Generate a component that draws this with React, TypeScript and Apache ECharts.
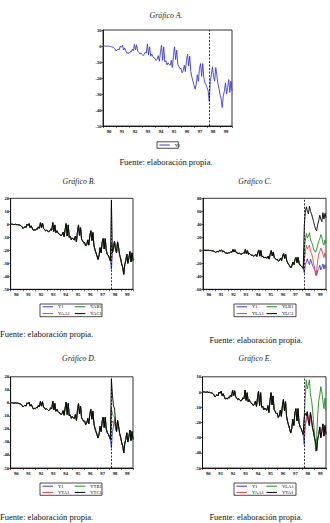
import React, { useEffect, useRef } from "react";
import * as echarts from "echarts";

// Year labels of the monthly axis (1990M01 - 1999M12)
const yearLabels = ["90", "91", "92", "93", "94", "95", "96", "97", "98", "99"];

// Observed series Y1, monthly 1990M01 - 1999M12
const y1 = [
  0, 0.1, 0, -0.2, -0.1, 0, -0.3, -0.2, -0.5, -0.7, -1.0, -1.8,
  -3.2, -2.4, -1.8, -2.5, 0, -0.8, 0.5, -2.5, -1.2, -3.0, -4.6, -4.2,
  -4.6, -3.5, -3.8, -2.0, -3.0, 1.2, -2.5, 0.8, -3.2, -4.0, -5.0, -4.4,
  -5.2, -6.0, -5.2, -3.8, -4.5, 1.3, -5.5, -0.5, -6.4, -5.0, -6.6, -7.5,
  -7.8, -9.0, -8.2, -6.0, -9.5, -4.0, 0.5, -9.0, -0.5, -10.0, -9.2, -11.8,
  -10.5, -11.5, -12.0, -9.0, -13.5, -6.0, -0.5, -8.5, -2.6, -11.5, -12.8, -14.2,
  -14.0, -16.7, -15.5, -12.0, -16.0, -9.0, -5.0, -12.5, -6.4, -16.0, -19.5, -22.0,
  -24.4, -27.0, -24.0, -18.0, -22.0, -14.0, -11.0, -19.0, -11.0, -20.0, -23.0, -24.0,
  -26.0, -28.0, -34.6, -22.0, -18.0, -13.0, -19.0, -22.0, -13.5, -18.0, -23.5, -26.5,
  -30.5, -33.0, -38.5, -31.0, -28.0, -23.0, -30.0, -26.0, -21.0, -29.0, -22.0, -28.0,
];

// Forecast period starts at 1998M03 (index 98)
const forecastStart = 98;

// Forecast paths, 1998M03 - 1999M12
const yaa1Fc = [-28.0, -22.0, -18.0, -13.0, -19.0, -22.0, -13.5, -18.0, -23.5, -26.5, -30.5, -33.0, -38.5, -31.0, -28.0, -23.0, -30.0, -26.0, -21.0, -29.0, -22.0, -28.0];
const yab1Fc = [-15.0, -22.0, -18.0, -13.0, -19.0, -22.0, -13.5, -18.0, -23.5, -26.5, -30.5, -33.0, -38.5, -31.0, -28.0, -23.0, -30.0, -26.0, -21.0, -29.0, -22.0, -28.0];
const yac1Fc = [18.5, -22.0, -18.0, -13.0, -19.0, -22.0, -13.5, -18.0, -23.5, -26.5, -30.5, -33.0, -38.5, -31.0, -28.0, -23.0, -30.0, -26.0, -21.0, -29.0, -22.0, -28.0];
const yta1Fc = [-17.0, -14.0, -15.5, -13.0, -19.0, -22.0, -13.5, -18.0, -23.5, -26.5, -30.5, -33.0, -38.5, -31.0, -28.0, -23.0, -30.0, -26.0, -21.0, -29.0, -22.0, -28.0];
const ytb1Fc = [-4.0, -9.0, -10.0, -11.0, -19.0, -22.0, -13.5, -18.0, -23.5, -26.5, -30.5, -33.0, -38.5, -31.0, -28.0, -23.0, -30.0, -26.0, -21.0, -29.0, -22.0, -28.0];
const ytc1Fc = [18.5, 6.0, -2.5, -4.0, -14.0, -22.0, -13.5, -18.0, -23.5, -26.5, -30.5, -33.0, -38.5, -31.0, -28.0, -23.0, -30.0, -26.0, -21.0, -29.0, -22.0, -28.0];
const yla1Fc = [-16, -4, 8, 2, 5, 8, -2, -5, -11, -20, -28, -39, -30, -15, -6, -2, 3.5, 0, -6, -11, -4, -12];
const ylb1Fc = [4, 14, 26, 19, 22, 27, 16, 13, 8, 2, -1, -3, 2, 8, 14, 18, 24, 20, 12, 8, 16, 10];
const ylc1Fc = [38, 58, 67, 60, 56, 68, 60, 56, 50, 44, 38, 32, 30, 40, 46, 54, 48, 44, 58, 48, 57, 50];

const BLUE = "#3b3bd4";
const RED = "#e0434f";
const GREEN = "#1c8c1c";
const BLACK = "#000000";
const SERIF = "Liberation Serif, DejaVu Serif, serif";

// history of Y1 followed by a forecast path
const withForecast = (fc: number[]) => y1.slice(0, forecastStart).concat(fc);
const toPoints = (vals: number[]) => vals.map((v, i) => [i, v]);

type SeriesDef = { name: string; data: number[]; color: string };
type PanelDef = {
  x: number; y: number; w: number; h: number;
  title: string; titleX: number; titleY: number;
  grid: { left: number; top: number; width: number; height: number };
  yMin: number; yMax: number; yStep: number;
  series: SeriesDef[];
  legendRows: string[][];
  legendBox: { x: number; y: number; w: number; h: number };
  legendLeft: number; legendRowY: number[]; colWidth: number;
  sourceX: number; sourceY: number; sourceAlign: string;
};

const sourceText = "Fuente: elaboración propia.";

const panels: PanelDef[] = [
  {
    x: 0, y: 0, w: 330, h: 170,
    title: "Gráfico A.", titleX: 166, titleY: 15.5,
    grid: { left: 103, top: 30, width: 129, height: 96 },
    yMin: -50, yMax: 10, yStep: 10,
    series: [{ name: "Y1", data: y1, color: BLUE }],
    legendRows: [["Y1"]],
    legendBox: { x: 157, y: 141.8, w: 21.3, h: 6.5 },
    legendLeft: 159.3, legendRowY: [145], colWidth: 30,
    sourceX: 166, sourceY: 161.5, sourceAlign: "center",
  },
  {
    x: 0, y: 170, w: 165, h: 175,
    title: "Gráfico B.", titleX: 79, titleY: 11,
    grid: { left: 9.5, top: 28.3, width: 123.5, height: 91 },
    yMin: -50, yMax: 20, yStep: 10,
    series: [
      { name: "Y1", data: y1, color: BLUE },
      { name: "YAA1", data: withForecast(yaa1Fc), color: RED },
      { name: "YAB1", data: withForecast(yab1Fc), color: GREEN },
      { name: "YAC1", data: withForecast(yac1Fc), color: BLACK },
    ],
    legendRows: [["Y1", "YAB1"], ["YAA1", "YAC1"]],
    legendBox: { x: 40, y: 134, w: 62, h: 12.7 },
    legendLeft: 42.5, legendRowY: [136.8, 143.6], colWidth: 32.3,
    sourceX: 0, sourceY: 164, sourceAlign: "left",
  },
  {
    x: 165, y: 170, w: 165, h: 175,
    title: "Gráfico C.", titleX: 90, titleY: 11,
    grid: { left: 38, top: 28.3, width: 123, height: 91 },
    yMin: -60, yMax: 80, yStep: 20,
    series: [
      { name: "Y1", data: y1, color: BLUE },
      { name: "YLA1", data: withForecast(yla1Fc), color: RED },
      { name: "YLB1", data: withForecast(ylb1Fc), color: GREEN },
      { name: "YLC1", data: withForecast(ylc1Fc), color: BLACK },
    ],
    legendRows: [["Y1", "YLB1"], ["YLA1", "YLC1"]],
    legendBox: { x: 69, y: 134, w: 62, h: 12.7 },
    legendLeft: 71.5, legendRowY: [136.8, 143.6], colWidth: 30,
    sourceX: 91, sourceY: 170, sourceAlign: "center",
  },
  {
    x: 0, y: 345, w: 165, h: 178,
    title: "Gráfico D.", titleX: 79, titleY: 13,
    grid: { left: 9.5, top: 31.8, width: 123.5, height: 91.2 },
    yMin: -50, yMax: 20, yStep: 10,
    series: [
      { name: "Y1", data: y1, color: BLUE },
      { name: "YTA1", data: withForecast(yta1Fc), color: RED },
      { name: "YTB1", data: withForecast(ytb1Fc), color: GREEN },
      { name: "YTC1", data: withForecast(ytc1Fc), color: BLACK },
    ],
    legendRows: [["Y1", "YTB1"], ["YTA1", "YTC1"]],
    legendBox: { x: 40, y: 138, w: 62, h: 12.3 },
    legendLeft: 42.5, legendRowY: [141.2, 147.4], colWidth: 32.3,
    sourceX: 0, sourceY: 172.3, sourceAlign: "left",
  },
  {
    x: 165, y: 345, w: 165, h: 178,
    title: "Gráfico E.", titleX: 90, titleY: 13,
    grid: { left: 37.5, top: 31.8, width: 123.5, height: 91.2 },
    yMin: -50, yMax: 10, yStep: 10,
    series: [
      { name: "Y1", data: y1, color: BLUE },
      { name: "YAA1", data: withForecast(yaa1Fc), color: RED },
      { name: "YLA1", data: withForecast(yla1Fc), color: GREEN },
      { name: "YTA1", data: withForecast(yta1Fc), color: BLACK },
    ],
    legendRows: [["Y1", "YLA1"], ["YAA1", "YTA1"]],
    legendBox: { x: 69, y: 138, w: 62, h: 12.3 },
    legendLeft: 71.5, legendRowY: [141.2, 147.4], colWidth: 30,
    sourceX: 91, sourceY: 172.3, sourceAlign: "center",
  },
];

const labelPositions = yearLabels.map((_, k) => 5.5 + 12 * k);

function buildOption(p: PanelDef): any {
  const axisFont = { fontSize: 4.6, fontWeight: "bold", fontFamily: SERIF, color: "#000" };
  const series = p.series.map((s, idx) => ({
    type: "line",
    name: s.name,
    data: toPoints(s.data),
    showSymbol: false,
    symbol: "none",
    lineStyle: { width: 0.9, color: s.color },
    itemStyle: { color: s.color },
    z: 2 + idx,
    markLine:
      idx === 0
        ? {
            silent: true,
            symbol: ["none", "none"],
            label: { show: false },
            lineStyle: { type: [2, 1.5], color: "#000", width: 0.8 },
            data: [{ xAxis: forecastStart }],
          }
        : undefined,
  }));
  const legends = p.legendRows.map((row, r) => ({
    data: row,
    orient: "horizontal",
    left: p.legendLeft,
    top: p.legendRowY[r] - 2.5,
    padding: 0,
    icon: "rect",
    itemWidth: 10.5,
    itemHeight: 1,
    itemGap: p.colWidth - 10.5 - 5 - 14,
    selectedMode: false,
    textStyle: { fontSize: 4.6, fontFamily: SERIF, color: "#000", width: 14, lineHeight: 5, padding: 0 },
  }));
  return {
    animation: false,
    backgroundColor: "#fff",
    textStyle: { fontFamily: SERIF },
    grid: { ...p.grid, show: true, borderColor: "#000", borderWidth: 0.8, containLabel: false },
    xAxis: {
      type: "value",
      min: 0,
      max: 119,
      interval: 12,
      axisLine: { show: true, onZero: false, lineStyle: { color: "#000", width: 0.8 } },
      axisTick: { show: true, length: 2, lineStyle: { color: "#000", width: 0.6 } },
      minorTick: { show: true, splitNumber: 4, length: 1.2, lineStyle: { color: "#000", width: 0.5 } },
      splitLine: { show: false },
      axisLabel: {
        ...axisFont,
        margin: 3,
        customValues: labelPositions,
        formatter: (v: number) => yearLabels[Math.round((v - 5.5) / 12)] ?? "",
      },
    },
    yAxis: {
      type: "value",
      min: p.yMin,
      max: p.yMax,
      interval: p.yStep,
      axisLine: { show: true, onZero: false, lineStyle: { color: "#000", width: 0.8 } },
      axisTick: { show: true, length: 1.5, lineStyle: { color: "#000", width: 0.6 } },
      splitLine: { show: false },
      axisLabel: { ...axisFont, margin: 1.5 },
    },
    legend: legends,
    series,
    graphic: [
      {
        type: "text",
        x: p.titleX,
        y: p.titleY,
        style: {
          text: p.title, fontSize: 7.8, fontStyle: "italic", fontFamily: SERIF,
          fill: "#222", align: "center", verticalAlign: "middle",
        },
      },
      {
        type: "rect",
        shape: { x: p.legendBox.x, y: p.legendBox.y, width: p.legendBox.w, height: p.legendBox.h },
        style: { fill: "none", stroke: "#000", lineWidth: 0.7 },
      },
      {
        type: "text",
        x: p.sourceX,
        y: p.sourceY,
        style: {
          text: sourceText, fontSize: 8.5, fontFamily: SERIF,
          fill: "#111", align: p.sourceAlign, verticalAlign: "middle",
        },
      },
    ],
  };
}

function Panel({ def }: { def: PanelDef }) {
  const ref = useRef<HTMLDivElement>(null);
  useEffect(() => {
    if (!ref.current) return;
    const chart = echarts.init(ref.current, null, { renderer: "svg" });
    chart.setOption(buildOption(def));
    return () => chart.dispose();
  }, [def]);
  return (
    <div
      ref={ref}
      style={{ position: "absolute", left: def.x, top: def.y, width: def.w, height: def.h }}
    />
  );
}

export default function App() {
  return (
    <div style={{ position: "absolute", left: 0, top: 0, width: 330, height: 523, background: "#fff", overflow: "hidden" }}>
      {panels.map((p) => (
        <Panel key={p.title} def={p} />
      ))}
    </div>
  );
}
